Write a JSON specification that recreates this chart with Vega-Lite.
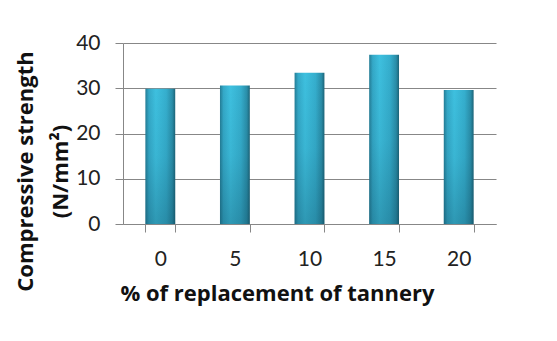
{
  "$schema": "https://vega.github.io/schema/vega-lite/v6.json",
  "autosize": {"type": "none"},
  "padding": {"left": 123, "top": 43, "right": 61, "bottom": 117},
  "width": 373,
  "height": 181,
  "background": "white",
  "config": {
    "view": {"stroke": null},
    "font": "Lato",
    "axis": {
      "domainColor": "#878787",
      "tickColor": "#878787",
      "gridColor": "#878787",
      "labelColor": "#222222",
      "titleColor": "#111111",
      "labelFont": "Lato",
      "titleFont": "Open Sans"
    }
  },
  "data": {
    "values": [
      {"replacement": "0", "strength": 29.9},
      {"replacement": "5", "strength": 30.6},
      {"replacement": "10", "strength": 33.4},
      {"replacement": "15", "strength": 37.4},
      {"replacement": "20", "strength": 29.6}
    ]
  },
  "encoding": {
    "x": {
      "field": "replacement",
      "type": "ordinal",
      "sort": null,
      "scale": {"paddingInner": 0.6, "paddingOuter": 0.3},
      "axis": {
        "title": "% of replacement of tannery",
        "labelAngle": 0,
        "labelFontSize": 21,
        "labelPadding": 16,
        "tickSize": 8,
        "tickBand": "extent",
        "titleFontSize": 22,
        "titleFontWeight": "bold",
        "titleX": 154,
        "titleY": 76,
        "titleBaseline": "alphabetic",
        "titleAlign": "center",
        "titleAnchor": "start"
      }
    },
    "y": {
      "field": "strength",
      "type": "quantitative",
      "scale": {"domain": [0, 40], "nice": false},
      "axis": {
        "title": ["Compressive strength", "(N/mm²)"],
        "values": [0, 10, 20, 30, 40],
        "grid": true,
        "labelFontSize": 21,
        "labelPadding": 15,
        "tickSize": 8,
        "titleFontSize": 22,
        "titleFontWeight": "bold",
        "titleLineHeight": 35,
        "titleX": -91,
        "titleY": 128,
        "titleAngle": -90,
        "titleBaseline": "alphabetic",
        "titleAlign": "center",
        "titleAnchor": "start"
      }
    }
  },
  "layer": [
    {
      "mark": {
        "type": "bar",
        "fill": {
          "gradient": "linear",
          "x1": 0, "y1": 0, "x2": 1, "y2": 0,
          "stops": [
            {"offset": 0, "color": "#247d96"},
            {"offset": 0.12, "color": "#34a9c8"},
            {"offset": 0.35, "color": "#3ec0df"},
            {"offset": 0.7, "color": "#35aecd"},
            {"offset": 0.9, "color": "#2a8ea9"},
            {"offset": 1, "color": "#1d6478"}
          ]
        }
      }
    },
    {
      "mark": {
        "type": "bar",
        "fill": {
          "gradient": "linear",
          "x1": 0, "y1": 0, "x2": 0, "y2": 1,
          "stops": [
            {"offset": 0, "color": "rgba(10,60,80,0)"},
            {"offset": 0.5, "color": "rgba(10,60,80,0.08)"},
            {"offset": 1, "color": "rgba(10,60,80,0.3)"}
          ]
        }
      }
    }
  ]
}
